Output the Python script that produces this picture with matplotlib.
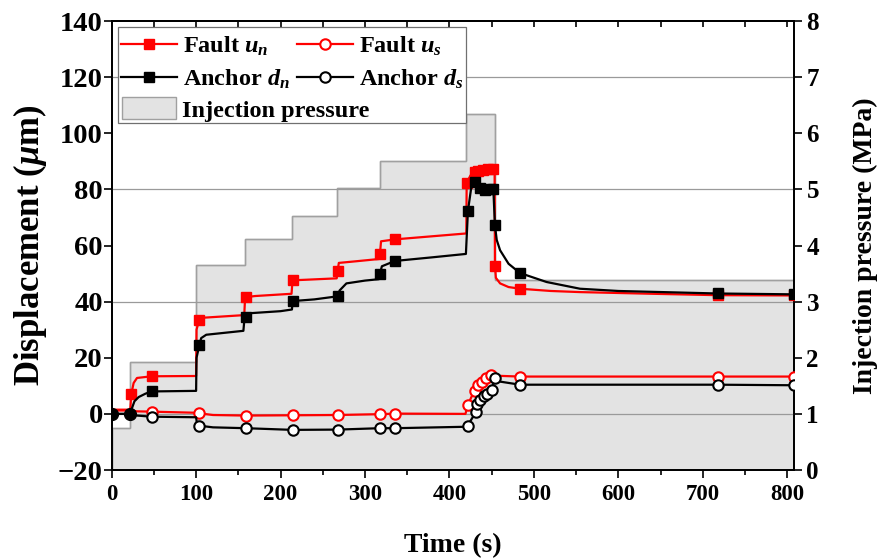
import matplotlib
matplotlib.use("Agg")
import matplotlib.pyplot as plt
from matplotlib.patches import Rectangle, Patch
from matplotlib.lines import Line2D
from matplotlib.ticker import MultipleLocator

plt.rcParams["font.family"] = "Liberation Serif"
plt.rcParams["font.weight"] = "bold"
plt.rcParams["mathtext.fontset"] = "custom"
plt.rcParams["mathtext.rm"] = "Liberation Serif:bold"
plt.rcParams["mathtext.it"] = "Liberation Serif:bold:italic"
plt.rcParams["mathtext.bf"] = "Liberation Serif:bold"

# injection pressure steps (MPa), edges in s
p_edges = [0, 22, 100, 158, 214, 267, 318, 420, 454, 808]
p_vals = [0.74, 1.93, 3.65, 4.11, 4.53, 5.02, 5.51, 6.34, 3.39]

# fault normal displacement u_n (um)
un_t = [0, 22, 23.3, 26, 30, 47.4, 100, 100.5, 103.8, 110, 157, 157.8, 158.7, 170, 213,
        213.8, 214.3, 230, 266.5, 267.6, 269, 290, 317, 317.7, 319, 335.9, 380, 420,
        420.4, 425, 430.3, 434.2, 440.1, 446, 451.9, 453.5, 453.9, 455, 460, 470, 483.5,
        520, 554.6, 640, 718, 808]
un_d = [1.5, 1.5, 7.1, 11, 12.8, 13.4, 13.5, 30, 33.6, 34.3, 35.2, 40, 41.6, 42, 42.8,
        46, 47.6, 47.8, 48.3, 50.9, 53.8, 54.4, 55.2, 56.9, 61.5, 62.2, 63.3, 64.3,
        82.4, 85, 86.3, 86.7, 86.9, 87.1, 87.2, 87, 52.7, 48.5, 46.5, 45.2, 44.6,
        43.8, 43.4, 42.8, 42.3, 42.2]
un_mark = [2, 5, 8, 12, 16, 19, 23, 25, 28, 30, 31, 32, 33, 34, 36, 40, 44, 45]

# fault shear displacement u_s (um)
us_t = [0, 22, 30, 47.4, 100, 103.8, 120, 158.7, 214.3, 267.6, 317.7, 335.9, 419,
        421.5, 426, 430.3, 434.2, 438.2, 443.3, 448.8, 455, 483.5, 718, 808]
us_d = [1.2, 1.2, 0.9, 0.8, 0.4, 0.2, -0.4, -0.6, -0.5, -0.4, -0.1, 0.1, 0.0,
        3.0, 6.0, 8.3, 10.4, 11.5, 12.9, 14.0, 13.6, 13.3, 13.3, 13.3]
us_mark = [3, 5, 7, 8, 9, 10, 11, 13, 15, 16, 17, 18, 19, 21, 22, 23]

# anchor normal displacement d_n (um)
dn_t = [0, 22, 24, 27, 32, 40, 47.4, 100, 100.5, 103.8, 106, 112, 156, 157, 158.7,
        160, 200, 213.5, 214.3, 240, 267.6, 270, 278, 300, 316.5, 317.7, 320, 335.5,
        380, 419.5, 421.9, 426, 430.2, 436.2, 442, 448, 452, 453.9, 456, 460, 470,
        483.5, 515, 554.6, 600, 718, 808]
dn_d = [0, 0, 2, 4.5, 6, 7.2, 8, 8.2, 20, 24.4, 27, 28.2, 29.6, 33, 34.5,
        35.8, 36.6, 37.2, 40.2, 40.8, 41.9, 44, 46.5, 47.5, 48, 50, 52.6, 54.5,
        55.8, 57, 72.3, 81, 82.5, 80.4, 79.8, 80, 80, 67.2, 62, 58.3, 53.5,
        50.2, 47, 44.6, 43.8, 42.9, 42.6]
dn_mark = [6, 9, 14, 18, 20, 25, 27, 30, 32, 33, 34, 35, 36, 37, 41, 45, 46]

# anchor shear displacement d_s (um)
ds_t = [0, 22, 30, 47.4, 100, 101, 103.8, 120, 158.7, 214.3, 267.6, 317.7, 335.9,
        418, 421.5, 428, 431.4, 433, 436.2, 440.9, 444.8, 450, 453.9, 460, 483.5,
        718, 808]
ds_d = [0, 0, -0.6, -1.0, -1.2, -3.5, -4.2, -4.8, -5.1, -5.7, -5.6, -5.1, -5.1,
        -4.6, -4.2, -1.0, 0.8, 3.6, 5.0, 6.2, 7.1, 8.6, 12.7, 11.5, 10.4,
        10.4, 10.2]
ds_mark = [3, 6, 8, 9, 10, 11, 12, 14, 16, 17, 18, 19, 20, 21, 22, 24, 25, 26]

RED = "#ff0000"

fig = plt.figure(figsize=(8.89, 5.59), dpi=100)
ax = fig.add_axes([0.1256, 0.1592, 0.7675, 0.8032])
ax2 = ax.twinx()

# pressure drawn on the right axis, behind the displacement curves
ax2.stairs(p_vals, p_edges, baseline=0, fill=True, facecolor="#e3e3e3",
           edgecolor="#a0a0a0", linewidth=1.0)
ax2.stairs(p_vals, p_edges, baseline=0, fill=False, color="#a0a0a0", linewidth=1.0)
ax.set_zorder(ax2.get_zorder() + 1)
ax.patch.set_visible(False)

for g in [0, 40, 80, 120]:
    ax.axhline(g, color="#9a9a9a", linewidth=0.9, zorder=1)

ax.plot(un_t, un_d, "-", color=RED, lw=1.6, marker="s", ms=6.5, mfc=RED, mec=RED,
        markevery=un_mark, zorder=3)
ax.plot(us_t, us_d, "-", color=RED, lw=1.6, marker="o", ms=7.5, mfc="white", mec=RED,
        mew=1.5, markevery=us_mark, zorder=3)
ax.plot(dn_t, dn_d, "-", color="black", lw=1.6, marker="s", ms=6.5, mfc="black",
        mec="black", markevery=dn_mark, zorder=4)
ax.plot(ds_t, ds_d, "-", color="black", lw=1.6, marker="o", ms=7.5, mfc="white",
        mec="black", mew=1.5, markevery=ds_mark, zorder=4)
ax.plot(ds_t[:2], ds_d[:2], "o", ms=8.5, color="black", zorder=5)

ax.set_xlim(0, 808)
ax.set_ylim(-20, 140)
ax2.set_ylim(0, 8)
ax.xaxis.set_major_locator(MultipleLocator(100))
ax.xaxis.set_minor_locator(MultipleLocator(50))
ax.yaxis.set_major_locator(MultipleLocator(20))
ax2.yaxis.set_major_locator(MultipleLocator(1))

ax.tick_params(axis="x", which="major", direction="out", length=6, width=1.2,
               labelsize=16.5, pad=4)
ax.tick_params(axis="x", which="minor", direction="out", length=3.5, width=1.2)
ax.tick_params(axis="y", direction="out", length=6, width=1.2, labelsize=20.5, pad=0.5)
ax2.tick_params(axis="y", direction="out", length=6, width=1.2, labelsize=18, pad=3)

top = ax.secondary_xaxis("top")
top.xaxis.set_major_locator(MultipleLocator(100))
top.xaxis.set_minor_locator(MultipleLocator(50))
top.tick_params(which="both", direction="in", length=4, width=1.2, labeltop=False)

for a in (ax, ax2):
    for s in a.spines.values():
        s.set_linewidth(1.3)
for s in top.spines.values():
    s.set_linewidth(1.3)

ax.set_xlabel("Time (s)", fontsize=20, fontweight="bold", labelpad=20)
ax.set_ylabel(r"Displacement ($\mu$m)", fontsize=25, fontweight="bold", labelpad=6)
ax2.set_ylabel("Injection pressure (MPa)", fontsize=20, fontweight="bold", labelpad=24)

# legend frame shared by the two legend blocks
ax.add_patch(Rectangle((0.0097, 0.7725), 0.5096, 0.2141, transform=ax.transAxes,
                       facecolor="white", edgecolor="#707070", linewidth=0.9,
                       zorder=6))

h_un = Line2D([], [], color=RED, lw=1.6, marker="s", ms=6.5, mfc=RED, mec=RED)
h_us = Line2D([], [], color=RED, lw=1.6, marker="o", ms=7.5, mfc="white", mec=RED, mew=1.5)
h_dn = Line2D([], [], color="black", lw=1.6, marker="s", ms=6.5, mfc="black")
h_ds = Line2D([], [], color="black", lw=1.6, marker="o", ms=7.5, mfc="white",
              mec="black", mew=1.5)
leg1 = ax.legend([h_un, h_dn, h_us, h_ds],
                 [r"Fault $u_n$", r"Anchor $d_n$", r"Fault $u_s$", r"Anchor $d_s$"],
                 ncol=2, loc="upper left", bbox_to_anchor=(0.0132, 0.970),
                 frameon=False, borderpad=0, borderaxespad=0, handlelength=2.3,
                 handletextpad=0.25, columnspacing=0.3, labelspacing=0.4,
                 prop={"size": 17.5, "weight": "bold"})
leg1.set_zorder(7)
ax.add_artist(leg1)
h_p = Patch(facecolor="#e3e3e3", edgecolor="#a0a0a0", linewidth=1.0)
leg2 = ax.legend([h_p], ["Injection pressure"], loc="upper left",
                 bbox_to_anchor=(0.0147, 0.830), frameon=False, borderpad=0,
                 borderaxespad=0, handlelength=2.25, handleheight=1.0,
                 handletextpad=0.25, prop={"size": 17.5, "weight": "bold"})
leg2.set_zorder(7)

fig.savefig("out.png", dpi=100)
